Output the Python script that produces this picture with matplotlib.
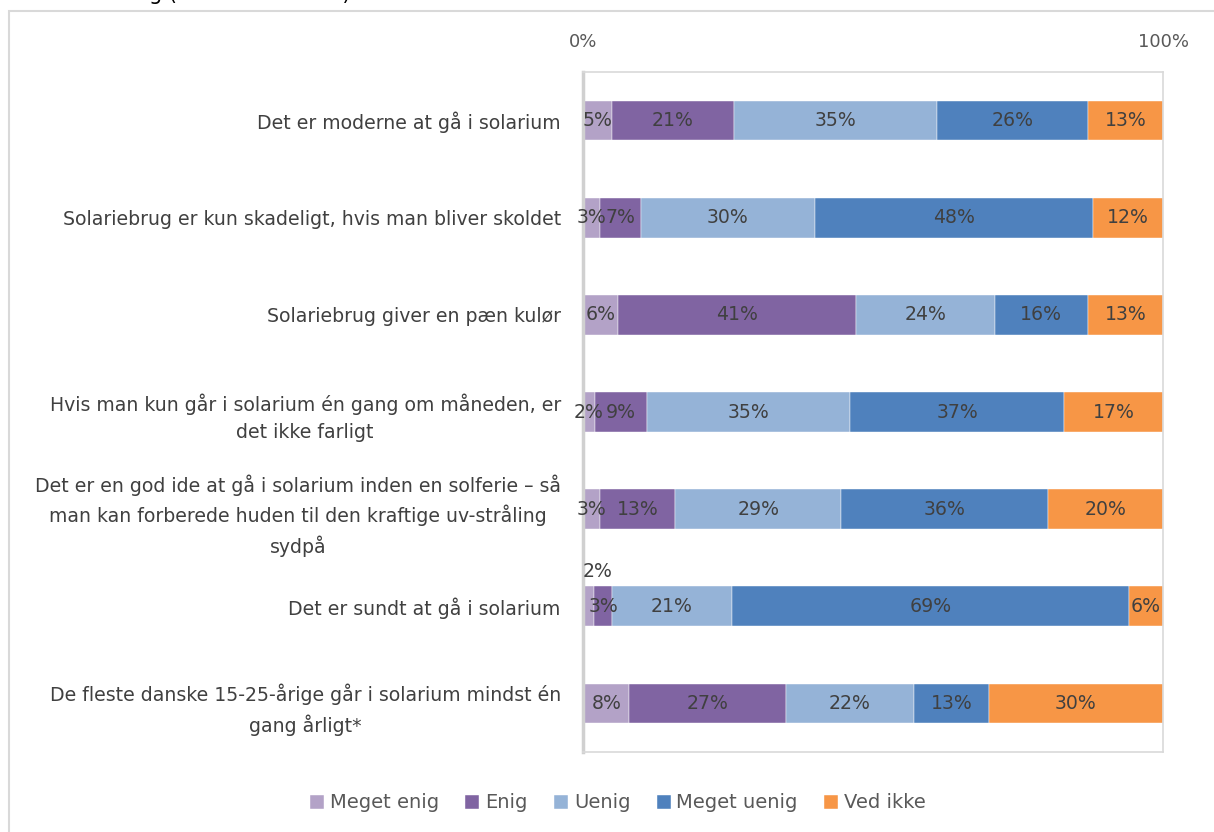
import matplotlib.pyplot as plt
import matplotlib.patches as mpatches
import numpy as np

plt.rcParams['font.family'] = ['DejaVu Sans']

# statements, top to bottom
statements = [
    'Det er moderne at gå i solarium',
    'Solariebrug er kun skadeligt, hvis man bliver skoldet',
    'Solariebrug giver en pæn kulør',
    'Hvis man kun går i solarium én gang om måneden, er\ndet ikke farligt',
    'Det er en god ide at gå i solarium inden en solferie – så\nman kan forberede huden til den kraftige uv-stråling\nsydpå',
    'Det er sundt at gå i solarium',
    'De fleste danske 15-25-årige går i solarium mindst én\ngang årligt*',
]
answers = ['Meget enig', 'Enig', 'Uenig', 'Meget uenig', 'Ved ikke']
colors = ['#B3A2C7', '#8064A2', '#95B3D7', '#4F81BD', '#F79646']

meget_enig = [5, 3, 6, 2, 3, 2, 8]
enig = [21, 7, 41, 9, 13, 3, 27]
uenig = [35, 30, 24, 35, 29, 21, 22]
meget_uenig = [26, 48, 16, 37, 36, 69, 13]
ved_ikke = [13, 12, 13, 17, 20, 6, 30]

values = np.array([meget_enig, enig, uenig, meget_uenig, ved_ikke], dtype=float)
shares = values / values.sum(axis=0) * 100

FS = 13.6
fig = plt.figure(figsize=(12.14, 8.32), dpi=100)
ax = fig.add_axes([583 / 1214, 1 - 752 / 832, 580 / 1214, 680 / 832])

y = np.arange(len(statements))
left = np.zeros(len(statements))
txt_color = '#404040'
for j, name in enumerate(answers):
    ax.barh(y, shares[j], left=left, height=0.41, color=colors[j], label=name,
            edgecolor='white', linewidth=0.3)
    for i in range(len(statements)):
        lab = f'{int(values[j, i])}%'
        # tiny segment next to another tiny one: label goes above the bar
        if j == 0 and values[j, i] <= 2 and values[j + 1, i] <= 3:
            ax.text(left[i], y[i] - 0.36, lab, ha='left', va='center',
                    fontsize=FS, color=txt_color)
        else:
            ax.text(left[i] + shares[j, i] / 2, y[i], lab, ha='center', va='center',
                    fontsize=FS, color=txt_color)
    left += shares[j]

ax.set_xlim(0, 100)
ax.set_ylim(len(statements) - 0.5, -0.5)
ax.xaxis.tick_top()
ax.set_xticks([0, 100])
ax.set_xticklabels(['0%', '100%'])
ax.tick_params(axis='x', length=0, pad=15, labelsize=13, labelcolor='#595959')
ax.set_yticks(y)
ax.set_yticklabels(statements, fontsize=FS, color=txt_color, linespacing=1.5,
                   multialignment='center')
ax.tick_params(axis='y', length=0, pad=16)
for side in ['top', 'right', 'bottom']:
    ax.spines[side].set_color('#D9D9D9')
    ax.spines[side].set_linewidth(1.2)
ax.spines['left'].set_color('#D0D0D0')
ax.spines['left'].set_linewidth(2.5)

fig.legend(loc='center', bbox_to_anchor=(0.509, 1 - 803 / 832), ncol=5, frameon=False,
           fontsize=14, handlelength=0.72, handleheight=0.72, handletextpad=0.3,
           columnspacing=1.35, labelcolor='#595959')

# outer chart border
fig.patches.append(mpatches.Rectangle((9 / 1214, -0.1), 1.2, 1.1 - 11 / 832,
                                      transform=fig.transFigure, fill=False,
                                      edgecolor='#D9D9D9', linewidth=1.5))
# title line, cut off by the top edge of the picture
fig.text(350 / 1214, 1 + 0.5 / 832, 'Solariebrug (alle besvarelser)',
         ha='right', va='baseline', fontsize=15, color='black')

plt.savefig('out.png', dpi=100)
